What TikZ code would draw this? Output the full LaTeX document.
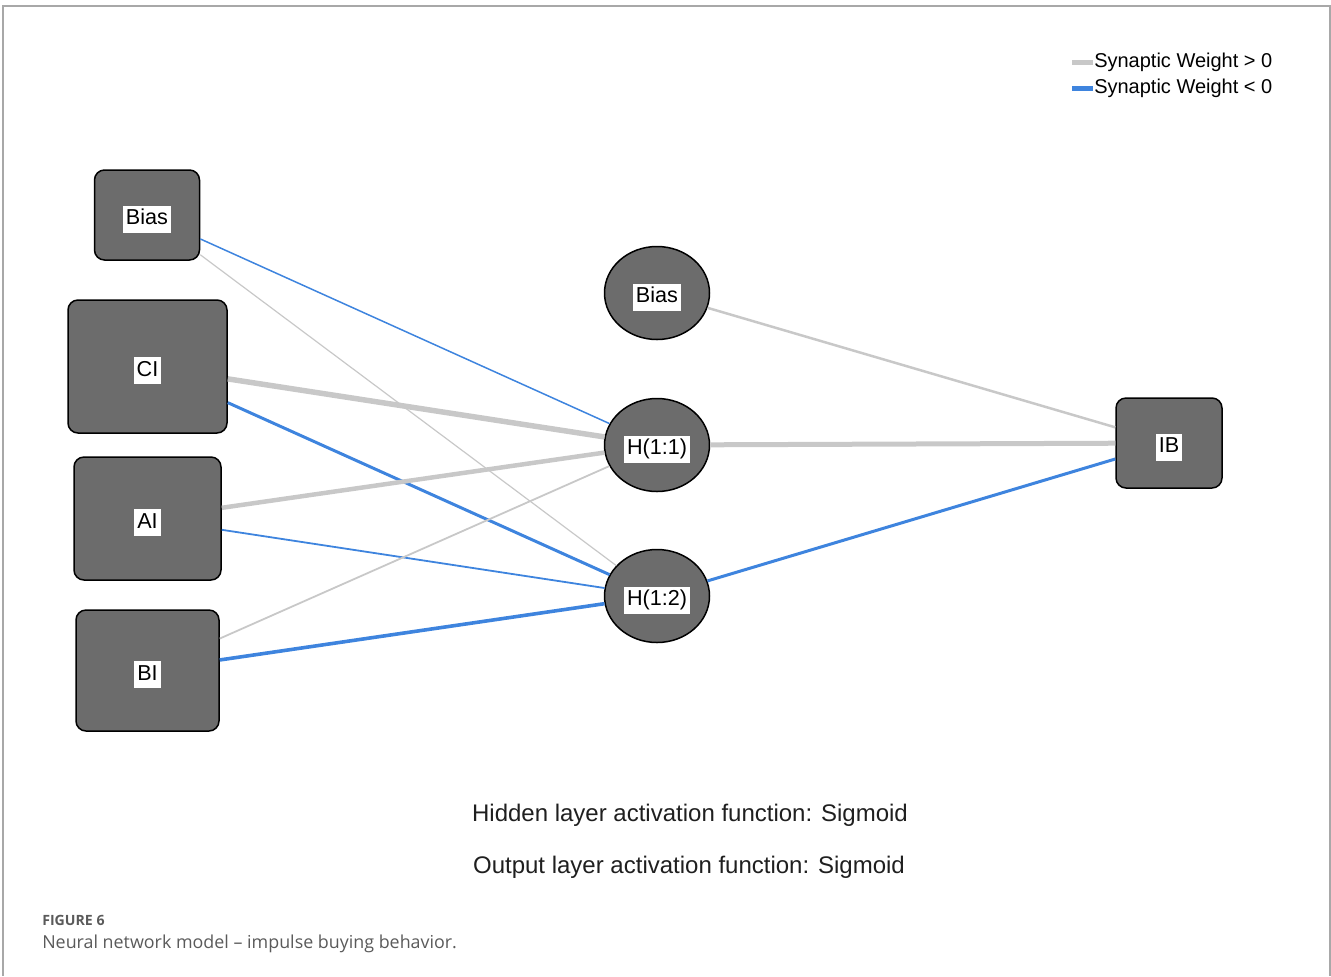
\documentclass[tikz,border=0pt]{standalone}
\usepackage{fontspec}
\setmainfont{Liberation Sans}
\newfontfamily\capfont{Open Sans}
\usetikzlibrary{shapes.geometric}

% one screen pixel
\newdimen\px \px=0.75pt

\definecolor{nodegray}{RGB}{108,108,108}
\definecolor{wpos}{RGB}{200,200,200}
\definecolor{wneg}{RGB}{62,132,222}
\definecolor{framegray}{RGB}{168,168,168}
\definecolor{capgray}{RGB}{90,90,90}

\tikzset{
  unitbox/.style={rectangle, rounded corners=10\px, draw=black, line width=1.5\px,
                  fill=nodegray, inner sep=0pt},
  unitoval/.style={ellipse, draw=black, line width=1.5\px, fill=nodegray,
                   inner sep=0pt, minimum width=105\px, minimum height=93\px},
  wgtpos/.style={draw=wpos},
  wgtneg/.style={draw=wneg},
  swatch/.style={rectangle, inner sep=0pt, minimum width=21\px, minimum height=5\px},
  legendtext/.style={anchor=west, inner sep=0pt, font=\fontsize{15}{17}\selectfont},
  notetext/.style={inner sep=0pt, text=black!88, font=\fontsize{18}{20}\selectfont},
}

% white plate behind each unit name, sitting a little below the unit's centre
\newcommand{\unitlabel}[1]{\raisebox{0pt}[\dimexpr\height+8\px][\depth]{%
  \setlength{\fboxsep}{3\px}\colorbox{white}{\fontsize{16.2}{18}\selectfont
  \rule[-5\px]{0pt}{21\px}#1}}}

\begin{document}
\begin{tikzpicture}[x=0.75pt, y=-0.75pt]
\useasboundingbox (0,0) rectangle (1331,976);

% outer frame (left, top, right)
\draw[framegray, line width=2\px] (3,976) -- (3,6) -- (1330,6) -- (1330,976);

% input layer
\node[unitbox, minimum width=105\px, minimum height=90\px]  (b0) at (147,215)     {\unitlabel{Bias}};
\node[unitbox, minimum width=159\px, minimum height=133\px] (ci) at (147.5,366.5) {\unitlabel{CI}};
\node[unitbox, minimum width=147\px, minimum height=123\px] (ai) at (147.5,518.5) {\unitlabel{AI}};
\node[unitbox, minimum width=143\px, minimum height=121\px] (bi) at (147.5,670.5) {\unitlabel{BI}};

% hidden layer
\node[unitoval] (b1) at (657,293) {\unitlabel{Bias}};
\node[unitoval] (h1) at (657,445) {\unitlabel{H(1:1)}};
\node[unitoval] (h2) at (657,596) {\unitlabel{H(1:2)}};

% output layer
\node[unitbox, minimum width=106\px, minimum height=90\px] (ib) at (1169,443) {\unitlabel{IB}};

% synaptic weights: input -> hidden
\draw[wgtneg, line width=1.5\px] (b0) -- (h1);
\draw[wgtpos, line width=1.2\px] (b0) -- (h2);
\draw[wgtpos, line width=5.5\px] (ci) -- (h1);
\draw[wgtneg, line width=3\px]   (ci) -- (h2);
\draw[wgtpos, line width=4.5\px] (ai) -- (h1);
\draw[wgtneg, line width=1.8\px] (ai) -- (h2);
\draw[wgtpos, line width=1.8\px] (bi) -- (h1);
\draw[wgtneg, line width=3.6\px] (bi) -- (h2);

% synaptic weights: hidden -> output
\draw[wgtpos, line width=2.5\px] (b1) -- (ib);
\draw[wgtpos, line width=5\px]   (h1) -- (ib);
\draw[wgtneg, line width=3\px]   (h2) -- (ib);

% legend
\node[swatch, fill=wpos] (sw1) at (1082.5,62) {};
\node[swatch, fill=wneg] (sw2) at (1082.5,88) {};
\node[legendtext] (lt1) at (1094,62) {Synaptic Weight > 0};
\node[legendtext] (lt2) at (1094,88) {Synaptic Weight < 0};

% activation notes
\node[notetext] (hid) at (690,815) {Hidden layer activation function: Sigmoid};
\node[notetext] (out) at (689,867) {Output layer activation function: Sigmoid};

% caption
\node[anchor=base west, inner sep=0pt, text=capgray, font=\capfont\bfseries\fontsize{10.6}{12}\selectfont] (fig) at (42,925) {FIGURE 6};
\node[anchor=base west, inner sep=0pt, text=capgray, font=\capfont\fontsize{13.4}{15}\selectfont] (cap) at (42,948) {Neural network model – impulse buying behavior.};
\end{tikzpicture}
\end{document}
